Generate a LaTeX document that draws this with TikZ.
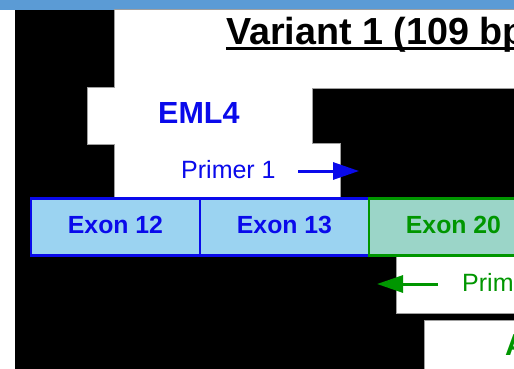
\documentclass[tikz,border=0pt]{standalone}
\usepackage{fontspec}
\setmainfont{Liberation Sans}
\usetikzlibrary{arrows.meta}
\definecolor{barblue}{RGB}{91,155,213}
\definecolor{eblue}{RGB}{10,10,235}
\definecolor{egreen}{RGB}{0,150,0}
\definecolor{exonfillb}{RGB}{155,211,241}
\definecolor{exonfillg}{RGB}{155,213,200}
\begin{document}
\begin{tikzpicture}[x=1pt,y=-1pt,
  boxedge/.style={draw=gray!75,line width=2pt},
  exon/.style={draw=#1,line width=2.4pt,minimum width=169pt,minimum height=57pt,inner sep=0pt,text depth=5pt,font=\bfseries\fontsize{24.8}{25}\selectfont,text=#1},
  lbl/.style={anchor=base west,inner sep=0pt},
  primer/.style={line width=3pt,-{Triangle[length=26pt,width=17pt]}}]
  \useasboundingbox (0,0) rectangle (514,369);
  \clip (0,0) rectangle (514,369);
  \fill[barblue] (0,0) rectangle (514,10);
  \fill[black] (15,10) rectangle (514,369);
  \foreach \a/\b/\c/\d in {115/10/530/88,88/88/312/144,115/144/340/198,397/257/530/313,425/321/530/380}
    \draw[boxedge] (\a,\b) rectangle (\c,\d);
  \foreach \a/\b/\c/\d in {115/10/530/88,88/88/312/144,115/144/340/198,397/257/530/313,425/321/530/380}
    \fill[white] (\a,\b) rectangle (\c,\d);

  \node[lbl,font=\bfseries\fontsize{37.7}{38}\selectfont] (title) at (226,45) {Variant 1 (109 bp};
  \draw[line width=2.6pt] ([yshift=-3.5pt]title.base west) -- ([yshift=-3.5pt]title.base east);
  \node[lbl,text=eblue,font=\bfseries\fontsize{30.5}{31}\selectfont] (eml) at (158,123) {EML4};
  \node[lbl,text=eblue,font=\fontsize{25}{25}\selectfont] (pr1) at (181,178) {Primer 1};

  \foreach \x/\num in {115.5/12,284.5/13}
    \node[exon=eblue,fill=exonfillb] (e\num) at (\x,227) {Exon \num};
  \node[exon=egreen,fill=exonfillg] (e20) at (453.5,227) {Exon 20};

  \node[lbl,text=egreen,font=\fontsize{25}{25}\selectfont] (pr2) at (462,291) {Prim};
  \node[lbl,text=egreen,font=\bfseries\fontsize{30.5}{31}\selectfont] (alk) at (505,355) {A};

  \coordinate (p1a) at (298,171);
  \coordinate (p1b) at (359,171);
  \coordinate (p2a) at (438,284);
  \coordinate (p2b) at (377,284);
  \draw[primer,eblue] (p1a) -- (p1b);
  \draw[primer,egreen] (p2a) -- (p2b);
\end{tikzpicture}
\end{document}
